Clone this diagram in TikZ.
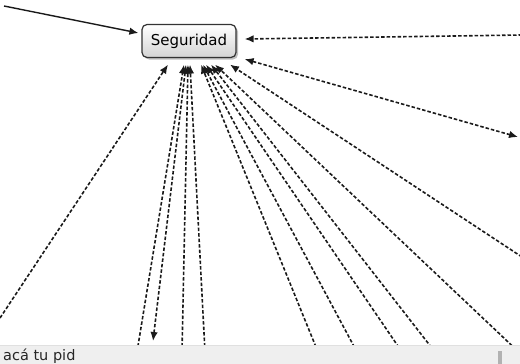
\documentclass[tikz,border=0pt]{standalone}
\usepackage{fontspec}
\setsansfont{DejaVu Sans}
\usepackage{tikz}
\usepackage{xcolor}
\usetikzlibrary{arrows.meta,shadows}

\definecolor{linkgray}{HTML}{1A1A1A}
\definecolor{barfill}{HTML}{EFEFEF}

\tikzset{
        >={Latex[length=9pt,width=7.5pt]},
        concept/.style={draw=black!80, line width=1.2pt, rounded corners=5pt, top color=white, bottom color=black!17,
                minimum width=94pt, minimum height=33pt, inner sep=2pt,
                font=\sffamily\fontsize{15}{18}\selectfont,
                drop shadow={shadow xshift=2pt, shadow yshift=-2pt, opacity=0.5}},
        link/.style={draw=linkgray, line width=1.6pt, dash pattern=on 3.5pt off 2pt}
}

\begin{document}
\begin{tikzpicture}[x=1pt, y=-1pt]
        \useasboundingbox (0,0) rectangle (520,364);
        \clip (0,0) rectangle (520,364);

        \node (seg) at (189,41) [concept] {Seguridad};

        % free ends of the links
        \coordinate (c0) at (4,6);
        \coordinate (c1) at (522,35);
        \coordinate (c2) at (518,137);
        \coordinate (c3) at (522,257);
        \coordinate (c4) at (0,318);
        \coordinate (c5) at (137,352);
        \coordinate (c6) at (153,341);
        \coordinate (c7) at (182,352);
        \coordinate (c8) at (205,352);
        \coordinate (c9) at (318,352);
        \coordinate (c10) at (357,352);
        \coordinate (c11) at (402,352);
        \coordinate (c12) at (435,352);
        \coordinate (c13) at (524,357);

        \draw[->, draw=linkgray, line width=1.4pt] (c0) -- ([xshift=-3pt,yshift=8pt]seg.west);
        \draw[link, ->] (c1) -- ([xshift=8pt,yshift=2pt]seg.east);
        \draw[link, <->] (c2) -- ([xshift=8pt,yshift=-1pt]seg.south east);
        \draw[link, ->] (c3) -- ([xshift=41pt,yshift=-6.5pt]seg.south);
        \draw[link, ->] (c4) -- ([xshift=-21pt,yshift=-6.5pt]seg.south);
        \draw[link, ->] (c5) -- ([xshift=-5pt,yshift=-6.5pt]seg.south);
        \draw[link, <->] (c6) -- ([xshift=-3pt,yshift=-6.5pt]seg.south);
        \draw[link, ->] (c7) -- ([xshift=-1pt,yshift=-6.5pt]seg.south);
        \draw[link, ->] (c8) -- ([xshift=1pt,yshift=-6.5pt]seg.south);
        \draw[link, ->] (c9) -- ([xshift=12pt,yshift=-6.5pt]seg.south);
        \draw[link, ->] (c10) -- ([xshift=14pt,yshift=-6.5pt]seg.south);
        \draw[link, ->] (c11) -- ([xshift=17pt,yshift=-6.5pt]seg.south);
        \draw[link, ->] (c12) -- ([xshift=22pt,yshift=-6.5pt]seg.south);
        \draw[link, ->] (c13) -- ([xshift=26pt,yshift=-6.5pt]seg.south);

        % status bar at the bottom
        \fill[barfill] (0,345) rectangle (520,364);
        \draw[black!12] (0,345) -- (520,345);
        \fill[black!30] (498,351) rectangle (502,364);
        \node (status) at (3,360) [anchor=base west, inner sep=0pt, font=\sffamily\fontsize{14.5}{17}\selectfont, text=black!85] {acá tu pid};
\end{tikzpicture}
\end{document}
